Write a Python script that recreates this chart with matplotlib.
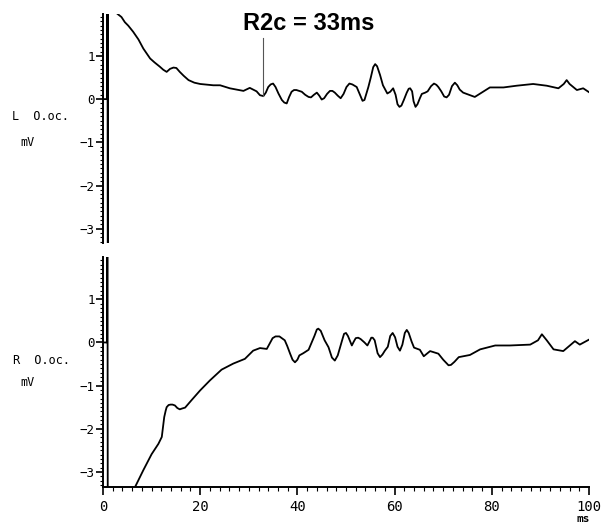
import matplotlib
matplotlib.use("Agg")
import matplotlib.pyplot as plt
from matplotlib.ticker import MultipleLocator

# Left orbicularis oculi recording: (time ms, amplitude mV)
trace_L = [
    (0, 0), (0.85, 0), (0.9, 6), (1.0, -6), (1.05, 6), (2.6, 2.3), (2.9, 1.98),
    (3.8, 1.9), (4.5, 1.78), (5.2, 1.7), (6.2, 1.56), (7.3, 1.38), (8.3, 1.17),
    (9.7, 0.94), (10.6, 0.85), (11.7, 0.75), (12.4, 0.68), (13.1, 0.63),
    (13.8, 0.70), (14.5, 0.73), (15.1, 0.72), (15.8, 0.63), (16.6, 0.54),
    (17.6, 0.44), (18.8, 0.38), (20.0, 0.35), (22.7, 0.32), (24.1, 0.32),
    (26.1, 0.25), (28.9, 0.19), (30.2, 0.26), (31.6, 0.18), (32.3, 0.09),
    (33.0, 0.07), (33.5, 0.15), (34.0, 0.28), (34.5, 0.34), (35.0, 0.36),
    (35.5, 0.28), (36.1, 0.13), (36.8, -0.02), (37.3, -0.08), (37.8, -0.10),
    (38.3, 0.05), (38.8, 0.17), (39.3, 0.21), (39.8, 0.21), (40.9, 0.17),
    (41.6, 0.10), (42.3, 0.05), (42.8, 0.04), (43.4, 0.10), (44.0, 0.15),
    (44.5, 0.08), (45.0, -0.01), (45.5, 0.02), (46.1, 0.12), (46.7, 0.19),
    (47.2, 0.19), (47.7, 0.15), (48.3, 0.08), (48.9, 0.02), (49.5, 0.12),
    (50.1, 0.28), (50.7, 0.36), (51.3, 0.34), (52.2, 0.28), (52.8, 0.12),
    (53.4, -0.04), (53.8, -0.02), (54.6, 0.28), (55.1, 0.50), (55.6, 0.74),
    (56.0, 0.81), (56.4, 0.76), (57.0, 0.56), (57.6, 0.32), (58.5, 0.13),
    (59.1, 0.17), (59.7, 0.25), (60.2, 0.10), (60.6, -0.12), (61.0, -0.18),
    (61.4, -0.15), (61.9, -0.02), (62.5, 0.15), (62.9, 0.24), (63.2, 0.25),
    (63.6, 0.18), (63.9, -0.05), (64.3, -0.18), (64.7, -0.12), (65.2, 0.02),
    (65.6, 0.12), (66.3, 0.15), (66.8, 0.18), (67.5, 0.30), (68.1, 0.36),
    (68.6, 0.33), (69.0, 0.28), (69.6, 0.18), (70.2, 0.06), (70.7, 0.04),
    (71.2, 0.10), (71.8, 0.30), (72.4, 0.38), (72.9, 0.32), (73.4, 0.22),
    (74.1, 0.15), (76.5, 0.05), (79.6, 0.27), (82.4, 0.27), (85.1, 0.31),
    (88.5, 0.35), (91.3, 0.31), (93.7, 0.25), (94.8, 0.35), (95.4, 0.44),
    (96.0, 0.35), (97.5, 0.21), (98.8, 0.25), (100.0, 0.16),
]

# Right orbicularis oculi recording: (time ms, amplitude mV)
trace_R = [
    (0, 0), (0.85, 0), (0.9, 6), (1.0, -6), (1.05, -6), (6.0, -4.0),
    (6.6, -3.35), (8.3, -2.96), (10.0, -2.59), (11.4, -2.35), (12.1, -2.19),
    (12.6, -1.73), (12.9, -1.58), (13.1, -1.50), (13.5, -1.45), (13.9, -1.44),
    (14.3, -1.44), (14.8, -1.46), (15.3, -1.52), (15.8, -1.55), (16.3, -1.53),
    (16.9, -1.51), (18.2, -1.34), (20.0, -1.11), (22.0, -0.88), (24.4, -0.63),
    (26.8, -0.49), (29.2, -0.38), (30.9, -0.19), (32.3, -0.13), (33.7, -0.15),
    (34.9, 0.10), (35.5, 0.14), (36.3, 0.14), (37.4, 0.05), (37.9, -0.08),
    (38.5, -0.26), (39.0, -0.40), (39.5, -0.46), (40.0, -0.40), (40.4, -0.30),
    (41.2, -0.25), (42.3, -0.17), (43.5, 0.15), (44.0, 0.30), (44.3, 0.32),
    (44.8, 0.27), (45.6, 0.05), (46.4, -0.11), (47.1, -0.35), (47.7, -0.42),
    (48.3, -0.30), (49.2, 0.05), (49.6, 0.20), (50.0, 0.22), (50.4, 0.15),
    (51.2, -0.07), (51.6, 0.02), (52.0, 0.10), (52.5, 0.11), (53.0, 0.08),
    (53.8, 0.00), (54.4, -0.07), (54.9, 0.04), (55.2, 0.11), (55.5, 0.11),
    (55.9, 0.05), (56.5, -0.25), (57.0, -0.34), (57.5, -0.28), (58.0, -0.19),
    (58.6, -0.10), (59.1, 0.15), (59.6, 0.22), (60.1, 0.12), (60.6, -0.10),
    (61.1, -0.19), (61.6, -0.05), (62.1, 0.22), (62.5, 0.29), (62.9, 0.22),
    (63.5, 0.02), (64.0, -0.12), (65.2, -0.17), (66.0, -0.32), (67.3, -0.20),
    (69.0, -0.26), (70.0, -0.40), (71.1, -0.53), (71.6, -0.52), (72.3, -0.45),
    (73.2, -0.34), (75.5, -0.29), (77.6, -0.16), (80.7, -0.07), (83.7, -0.07),
    (87.9, -0.05), (89.5, 0.05), (90.3, 0.19), (91.3, 0.05), (92.7, -0.16),
    (94.7, -0.20), (97.1, 0.03), (98.1, -0.05), (99.9, 0.06),
]

y_ticks = [-3, -2, -1, 0, 1]
x_ticks = [0, 20, 40, 60, 80, 100]
r2c_ms = 33
r2c_val = 0.08
labels = ["L  O.oc.", "R  O.oc."]

fig = plt.figure(figsize=(6.09, 5.24), dpi=100)
ax_top = fig.add_axes([0.1691, 0.5363, 0.7981, 0.4370])
ax_bot = fig.add_axes([0.1691, 0.0706, 0.7981, 0.4389])

mono = "DejaVu Sans Mono"

for ax, trace, lim in [(ax_top, trace_L, (-3.33, 1.97)),
                       (ax_bot, trace_R, (-3.35, 1.98))]:
    t, v = zip(*trace)
    ax.plot(t, v, color="black", lw=1.3, solid_joinstyle="round")
    ax.set_xlim(0, 100)
    ax.set_ylim(*lim)
    for s in ["top", "right"]:
        ax.spines[s].set_visible(False)
    ax.spines["left"].set_linewidth(1.4)
    ax.set_yticks(y_ticks)
    ax.yaxis.set_minor_locator(MultipleLocator(0.1))
    ax.tick_params(axis="y", which="major", length=5, width=1.2, pad=1,
                   labelsize=9)
    ax.tick_params(axis="y", which="minor", length=2, width=0.8)
    for lab in ax.get_yticklabels():
        lab.set_family(mono)

# Top panel: no x axis
ax_top.spines["bottom"].set_visible(False)
ax_top.set_xticks([])

# Bottom panel x axis
ax_bot.spines["bottom"].set_linewidth(1.4)
ax_bot.set_xticks(x_ticks)
ax_bot.xaxis.set_minor_locator(MultipleLocator(2))
ax_bot.tick_params(axis="x", which="major", length=6, width=1.2, pad=3,
                   labelsize=10)
ax_bot.tick_params(axis="x", which="minor", length=3, width=0.8)
for lab in ax_bot.get_xticklabels():
    lab.set_family(mono)

# Channel labels
fig.text(12 / 609, 1 - 117 / 524, labels[0], family=mono, fontsize=8.5,
         va="center", ha="left")
fig.text(20 / 609, 1 - 142 / 524, "mV", family=mono, fontsize=8.5,
         va="center", ha="left")
fig.text(13 / 609, 1 - 360 / 524, labels[1], family=mono, fontsize=8.5,
         va="center", ha="left")
fig.text(20 / 609, 1 - 382 / 524, "mV", family=mono, fontsize=8.5,
         va="center", ha="left")
fig.text(583 / 609, 1 - 519 / 524, "ms", family=mono, fontsize=8,
         fontweight="bold", va="center", ha="center")

# R2c latency marker
ax_top.plot([r2c_ms, r2c_ms], [r2c_val, 1.41], color="#555555", lw=0.8)
fig.text(309 / 609, 1 - 23 / 524, f"R2c = {r2c_ms}ms",
         family="Liberation Sans", fontweight="bold", fontsize=17,
         ha="center", va="center")

fig.savefig("out.png", dpi=100)
